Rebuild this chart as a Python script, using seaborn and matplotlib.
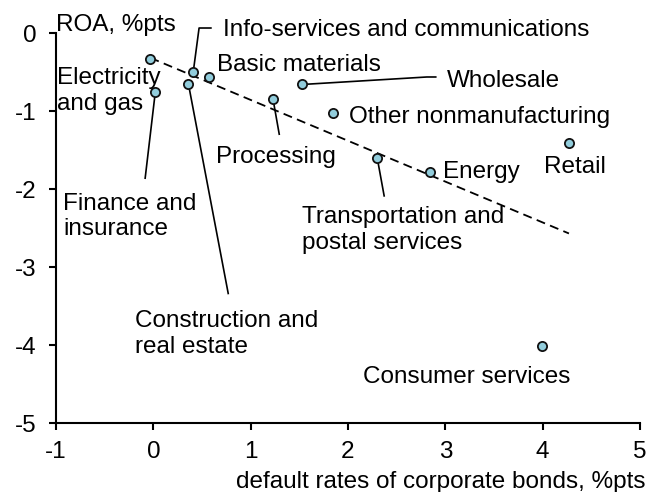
import matplotlib
matplotlib.use("Agg")
import matplotlib.pyplot as plt
import seaborn as sns
import pandas as pd

# Sector data: change in default rates of corporate bonds vs change in ROA
sectors = [
    "Electricity\nand gas",
    "Finance and\ninsurance",
    "Info-services and communications",
    "Basic materials",
    "Construction and\nreal estate",
    "Wholesale",
    "Processing",
    "Other nonmanufacturing",
    "Transportation and\npostal services",
    "Energy",
    "Retail",
    "Consumer services",
]
default_rate = [-0.03, 0.02, 0.41, 0.57, 0.36, 1.53, 1.23, 1.85, 2.30, 2.84, 4.27, 3.99]
roa = [-0.33, -0.76, -0.50, -0.56, -0.65, -0.66, -0.85, -1.03, -1.60, -1.78, -1.41, -4.01]

x_ticks = [-1, 0, 1, 2, 3, 4, 5]
y_ticks = [-5, -4, -3, -2, -1, 0]

# Label anchor (left edge, baseline of the last line) in data units
label_pos = {
    "Electricity\nand gas": (-0.99, -0.985),
    "Finance and\ninsurance": (-0.925, -2.59),
    "Info-services and communications": (0.713, -0.038),
    "Basic materials": (0.651, -0.483),
    "Construction and\nreal estate": (-0.188, -4.10),
    "Wholesale": (3.014, -0.688),
    "Processing": (0.644, -1.671),
    "Other nonmanufacturing": (2.011, -1.158),
    "Transportation and\npostal services": (1.525, -2.765),
    "Energy": (2.973, -1.863),
    "Retail": (4.014, -1.795),
    "Consumer services": (2.151, -4.483),
}
# Leader-line vertices following the marker, in data units
leaders = {
    "Info-services and communications": [(0.47, 0.064), (0.60, 0.064)],
    "Wholesale": [(2.81, -0.564), (2.91, -0.564)],
    "Processing": [(1.295, -1.308)],
    "Transportation and\npostal services": [(2.373, -2.099)],
    "Finance and\ninsurance": [(-0.085, -1.872)],
    "Construction and\nreal estate": [(0.771, -3.35)],
}

df = pd.DataFrame({"sector": sectors, "default_rate": default_rate, "roa": roa})

sns.set_style("ticks")
plt.rcParams["font.family"] = ["Liberation Sans", "DejaVu Sans"]
plt.rcParams["text.color"] = "black"

FS = 17.5
fig = plt.figure(figsize=(6.5, 4.92), dpi=100)
ax = fig.add_axes([56 / 650, 1 - 423 / 492, 584 / 650, 390 / 492])

# leader lines first so markers sit on top
for name, verts in leaders.items():
    row = df[df["sector"] == name].iloc[0]
    xs = [row["default_rate"]] + [v[0] for v in verts]
    ys = [row["roa"]] + [v[1] for v in verts]
    ax.plot(xs, ys, color="black", lw=1.2, zorder=2, solid_capstyle="butt",
            clip_on=False)

# least-squares trend line across the sectors
sns.regplot(data=df, x="default_rate", y="roa", scatter=False, ci=None,
            truncate=True, ax=ax,
            line_kws=dict(color="black", lw=1.3, ls=(0, (5, 3)), zorder=3))

sns.scatterplot(data=df, x="default_rate", y="roa", ax=ax, s=44,
                color="#92CDDC", edgecolor="#111111", linewidth=1.3,
                zorder=4, legend=False, clip_on=False)

for name, (tx, ty) in label_pos.items():
    ax.text(tx, ty, name, fontsize=FS, ha="left", va="baseline",
            linespacing=1.2, color="black", zorder=5, clip_on=False)

ax.set_xlim(-1, 5)
ax.set_ylim(-5, 0)
ax.set_xticks(x_ticks)
ax.set_yticks(y_ticks)
ax.set_xticklabels([str(v) for v in x_ticks])
ax.set_yticklabels([str(v) for v in y_ticks])
ax.set_xlabel("")
ax.set_ylabel("")

for side in ("top", "right"):
    ax.spines[side].set_visible(False)
for side in ("left", "bottom"):
    ax.spines[side].set_linewidth(1.5)
    ax.spines[side].set_color("black")
ax.tick_params(axis="both", direction="out", length=5, width=1.5,
               color="black", labelsize=FS, labelcolor="black")
ax.tick_params(axis="y", pad=9)
ax.tick_params(axis="x", pad=8)

ax.text(0.0, 1.006, "ROA, %pts", transform=ax.transAxes, fontsize=FS,
        ha="left", va="baseline", color="black")
fig.text(645 / 650, 1 - 488 / 492, "default rates of corporate bonds, %pts",
         fontsize=FS, ha="right", va="baseline", color="black")

fig.savefig("out.png", dpi=100, facecolor="white")
